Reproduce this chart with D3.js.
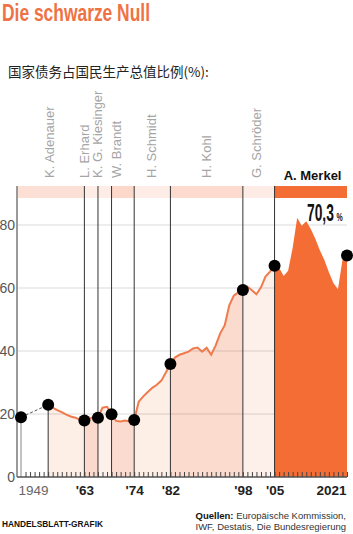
<!DOCTYPE html>
<html>
<head>
<meta charset="utf-8">
<script src="https://cdn.jsdelivr.net/npm/d3@7"></script>
<style>
  body { margin: 0; background: #fff; }
  svg { display: block; font-family: "Liberation Sans", Arial, sans-serif; }
</style>
</head>
<body>
<div id="chart"></div>
<script>
// Schuldenquote (% des BIP), jährlich ab 1955
const years = d3.range(1955, 2022);
const debt = [
  22.9, 22.0, 21.2, 20.6, 19.8, 19.2, 18.8, 18.3, 17.9, 18.4, // 1955-1964
  19.0, 18.8, 22.0, 22.3, 19.9, 17.8, 17.6, 17.9, 17.6, 18.1, // 1965-1974
  23.9, 25.6, 27.0, 28.3, 29.3, 30.6, 33.2, 35.9, 37.9, 38.8, // 1975-1984
  39.3, 39.8, 40.8, 41.1, 39.8, 41.0, 38.8, 41.8, 45.6, 48.2, // 1985-1994
  54.5, 57.6, 58.6, 59.4, 60.4, 59.3, 58.0, 60.2, 63.6, 65.2, // 1995-2004
  67.1, 66.5, 63.8, 65.5, 72.8, 82.3, 79.8, 81.2, 78.7, 75.6, // 2005-2014
  72.0, 68.9, 65.0, 61.6, 59.6, 68.9, 70.3                    // 2015-2021
];
const startYear = 1949;
const startValue = 19.0;

// Kanzler
const chancellors = ["K. Adenauer", "L. Erhard", "K. G. Kiesinger", "W. Brandt",
                     "H. Schmidt", "H. Kohl", "G. Schröder", "A. Merkel"];
const termStart = [1949, 1963, 1966, 1969, 1974, 1982, 1998, 2005];
const termEnd   = [1963, 1966, 1969, 1974, 1982, 1998, 2005, 2021];
const labelYear = [1955.4, 1963.1, 1966.0, 1970.2, 1977.9, 1990.1, 2001.1, 2013.4];

// Punkte beim Kanzlerwechsel
const markerYears = [1955, 1963, 1966, 1969, 1974, 1982, 1998, 2005, 2021];

const tickYears = [1949, 1963, 1974, 1982, 1998, 2005, 2021];
const tickLabels = ["1949", "'63", "'74", "'82", "'98", "'05", "2021"];
const yTicks = [0, 20, 40, 60, 80];

const width = 353, height = 534;
const axisX = 17, bandTop = 186, bandBottom = 198;
const orange = "#f36d35";
const areaShade = ["#fdeee6", "#fbd9cc", "#fdf0ea", "#fbdbcf", "#fdeee6", "#fbdbce", "#fdefe9", orange];
const bandShade = ["#fde0d5", "#fdede6", "#fdede6", "#fcd8cb", "#fdede6", "#fcdacd", "#fdece6", orange];

const data = years.map((yr, i) => ({ year: yr, value: debt[i] }));
const byYear = new Map(data.map(d => [d.year, d.value]));

const svg = d3.select("#chart").append("svg")
    .attr("width", width)
    .attr("height", height);

const x = d3.scaleLinear().domain([1949, 2021]).range([21, 347]);
const y = d3.scaleLinear().domain([0, 80]).range([477, 225]);
const right = x(2021);

// Titel
svg.append("text")
    .attr("x", 2).attr("y", 21)
    .attr("font-family", "'Liberation Sans Narrow', 'Liberation Sans', Arial, sans-serif")
    .attr("font-size", 23).attr("font-weight", "bold")
    .attr("fill", "#ef7244")
    .attr("textLength", 148).attr("lengthAdjust", "spacingAndGlyphs")
    .text("Die schwarze Null");

svg.append("text")
    .attr("x", 8).attr("y", 77)
    .attr("font-family", "'Noto Sans CJK SC', sans-serif")
    .attr("font-size", 13.5)
    .attr("fill", "#222")
    .text("国家债务占国民生产总值比例(%):");

// Band oben
svg.append("g").selectAll("rect")
    .data(chancellors)
    .join("rect")
    .attr("x", (d, i) => i === 0 ? axisX : x(termStart[i]))
    .attr("y", bandTop)
    .attr("width", (d, i) => x(termEnd[i]) - (i === 0 ? axisX : x(termStart[i])))
    .attr("height", bandBottom - bandTop)
    .attr("fill", (d, i) => bandShade[i]);

// Flächen je Kanzler
const area = d3.area()
    .x(d => x(d.year))
    .y0(y(0))
    .y1(d => y(d.value));

const areas = svg.append("g");
chancellors.forEach((c, i) => {
    const seg = data.filter(d => d.year >= termStart[i] && d.year <= termEnd[i]);
    areas.append("path")
        .datum(seg)
        .attr("class", i === 7 ? "merkel" : "")
        .attr("fill", areaShade[i])
        .attr("d", area);
});

// Gitter
svg.append("g").selectAll("line")
    .data(yTicks.slice(1))
    .join("line")
    .attr("x1", axisX).attr("x2", right)
    .attr("y1", d => y(d)).attr("y2", d => y(d))
    .attr("stroke", "rgba(0,0,0,0.14)")
    .attr("stroke-width", 1);

// Merkel-Fläche über das Gitter
svg.node().appendChild(areas.select(".merkel").node());

// Linie
svg.append("path")
    .datum(data.filter(d => d.year <= 2005))
    .attr("fill", "none")
    .attr("stroke", "#ef7a4c")
    .attr("stroke-width", 2)
    .attr("d", d3.line().x(d => x(d.year)).y(d => y(d.value)));

// Kanzlerwechsel-Linien
svg.append("g").selectAll("line")
    .data(termStart.slice(1))
    .join("line")
    .attr("x1", d => x(d)).attr("x2", d => x(d))
    .attr("y1", bandTop).attr("y2", y(0))
    .attr("stroke", "#333")
    .attr("stroke-width", 1);

// Linien unter den ersten Punkten
svg.append("line")
    .attr("x1", x(startYear)).attr("x2", x(startYear))
    .attr("y1", y(startValue)).attr("y2", y(0))
    .attr("stroke", "#999").attr("stroke-width", 1.2);
svg.append("line")
    .attr("x1", x(1955)).attr("x2", x(1955))
    .attr("y1", y(byYear.get(1955))).attr("y2", y(0))
    .attr("stroke", "#333").attr("stroke-width", 1);

// gestrichelt 1949-1955
svg.append("line")
    .attr("x1", x(startYear)).attr("y1", y(startValue))
    .attr("x2", x(1955)).attr("y2", y(byYear.get(1955)))
    .attr("stroke", "#555").attr("stroke-width", 1)
    .attr("stroke-dasharray", "3,2");

// y-Achse
svg.append("line")
    .attr("x1", axisX).attr("x2", axisX)
    .attr("y1", bandTop).attr("y2", y(0))
    .attr("stroke", "#9a9a9a").attr("stroke-width", 2);

const yAxis = svg.append("g")
    .attr("transform", `translate(${axisX - 1},0)`)
    .call(d3.axisLeft(y).tickValues(yTicks).tickSize(0).tickPadding(1));
yAxis.select(".domain").remove();
yAxis.selectAll("text")
    .attr("font-family", "'Liberation Sans', Arial, sans-serif")
    .attr("font-size", 14)
    .attr("fill", "#555");

// x-Achse: Jahresstriche
const xMinor = svg.append("g")
    .attr("transform", `translate(0,${y(0)})`)
    .call(d3.axisBottom(x).tickValues(d3.range(1950, 2022)).tickSize(-5).tickFormat(""));
xMinor.select(".domain")
    .attr("d", `M${axisX},0H${right}`)
    .attr("stroke", "#555").attr("stroke-width", 1.5);
xMinor.selectAll(".tick line").attr("stroke", "#444");

const xAxis = svg.append("g")
    .attr("transform", `translate(0,${y(0)})`)
    .call(d3.axisBottom(x).tickValues(tickYears).tickSize(0).tickPadding(8)
        .tickFormat((d, i) => tickLabels[i]));
xAxis.select(".domain").remove();
xAxis.selectAll("text")
    .attr("font-family", "'Liberation Sans', Arial, sans-serif")
    .attr("font-size", 13.5)
    .attr("font-weight", (d, i) => i === 0 ? "normal" : "bold")
    .attr("fill", (d, i) => i === 0 ? "#666" : "#222")
    .attr("text-anchor", (d, i) => i === 0 ? "start" : i === tickYears.length - 1 ? "end" : "middle")
    .attr("dx", (d, i) => i === 0 ? -3 : i === tickYears.length - 1 ? -1 : 0);

// Punkte
svg.append("g").selectAll("circle")
    .data([{ year: startYear, value: startValue }].concat(markerYears.map(yr => ({ year: yr, value: byYear.get(yr) }))))
    .join("circle")
    .attr("cx", d => x(d.year))
    .attr("cy", d => y(d.value))
    .attr("r", 6)
    .attr("fill", "#000");

// Kanzlernamen
svg.append("g").selectAll("text")
    .data(chancellors.slice(0, 7))
    .join("text")
    .attr("transform", (d, i) => `translate(${x(labelYear[i]) + 4},178) rotate(-90)`)
    .attr("font-size", 13)
    .attr("fill", "#a5a5a5")
    .text(d => d);

svg.append("text")
    .attr("x", x(labelYear[7])).attr("y", 180)
    .attr("text-anchor", "middle")
    .attr("font-size", 13).attr("font-weight", "bold")
    .attr("fill", "#111")
    .text(chancellors[7]);

// Endwert (schmal gezogen)
const last = debt[debt.length - 1];
svg.append("text")
    .attr("transform", "translate(307,221) scale(0.6,1)")
    .attr("font-size", 23).attr("font-weight", "bold")
    .attr("fill", "#111")
    .text(d3.format(".1f")(last).replace(".", ","));
svg.append("text")
    .attr("transform", "translate(336.5,221) scale(0.7,1)")
    .attr("font-size", 10).attr("font-weight", "bold")
    .attr("fill", "#111")
    .text("%");

// Fußzeile
svg.append("text")
    .attr("x", 2).attr("y", 527)
    .attr("font-size", 9.5).attr("font-weight", "bold")
    .attr("fill", "#111")
    .attr("textLength", 101).attr("lengthAdjust", "spacingAndGlyphs")
    .text("HANDELSBLATT-GRAFIK");

const src = svg.append("text")
    .attr("text-anchor", "end")
    .attr("font-size", 9.5)
    .attr("fill", "#333");
src.append("tspan").attr("x", 346).attr("y", 519)
    .append("tspan").attr("font-weight", "bold").attr("fill", "#111").text("Quellen: ");
src.select("tspan").append("tspan").text("Europäische Kommission,");
src.append("tspan").attr("x", 346).attr("y", 530).text("IWF, Destatis, Die Bundesregierung");
</script>
</body>
</html>
